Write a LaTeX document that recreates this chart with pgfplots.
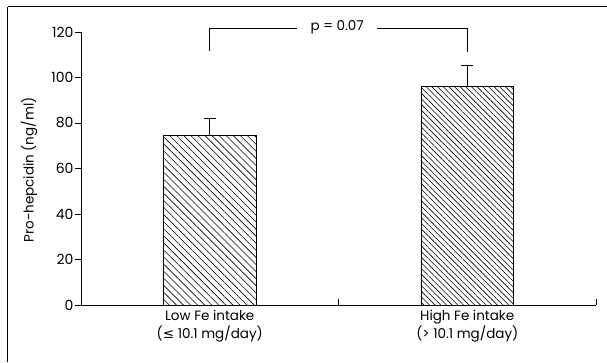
\documentclass[border=0pt]{standalone}
\usepackage{fontspec}
\setmainfont{Poppins}
\newfontfamily\symfont{DejaVu Sans}
\usepackage{pgfplots}
\pgfplotsset{compat=1.18}
\usetikzlibrary{patterns.meta}
\begin{document}
\begin{tikzpicture}[x=1bp,y=1bp]
\useasboundingbox (-81,-57) rectangle (526,305);
\begin{axis}[
  at={(0,0)}, anchor=origin,
  scale only axis, width=515bp, height=273bp,
  xmin=0, xmax=2, ymin=0, ymax=120,
  axis lines=left,
  axis line style={-, line width=0.8bp},
  clip=false,
  tick align=inside,
  major tick length=6bp,
  every tick/.style={black, line width=0.8bp},
  xtick={1,2}, xticklabels={},
  ytick={0,20,40,60,80,100,120},
  ytick style={xshift=-6bp},
  yticklabel style={font=\fontsize{14bp}{16bp}\selectfont, xshift=-4bp},
  /pgf/number format/assume math mode=true,
  extra x ticks={0.5,1.5},
  extra x tick labels={{Low Fe intake\\({\symfont ≤} 10.1 mg/day)},{High Fe intake\\(> 10.1 mg/day)}},
  extra x tick style={major tick length=0pt, tick label style={align=center, font=\fontsize{13.5bp}{18bp}\selectfont, yshift=-2bp}},
]
\addplot[ybar, bar width=0.36, draw=black, line width=0.8bp,
  pattern={Lines[angle=-45,distance=5bp,line width=0.6bp]},
  error bars/.cd, y dir=plus, y explicit, error mark=|,
  error bar style={line width=0.8bp, black, solid},
  error mark options={mark size=6bp, line width=0.8bp, draw=black, solid}]
  coordinates {(0.5,74.5) +- (0,7.4)};
\addplot[ybar, bar width=0.36, draw=black, line width=0.8bp,
  pattern={Lines[angle=-45,distance=4bp,line width=0.6bp]},
  error bars/.cd, y dir=plus, y explicit, error mark=|,
  error bar style={line width=0.8bp, black, solid},
  error mark options={mark size=6bp, line width=0.8bp, draw=black, solid}]
  coordinates {(1.5,96) +- (0,9.3)};
\draw[line width=0.7bp] (axis cs:0.5,111.5) -- (axis cs:0.5,121.5) -- (axis cs:0.84,121.5);
\draw[line width=0.7bp] (axis cs:1.15,121.5) -- (axis cs:1.5,121.5) -- (axis cs:1.5,111);
\node[font=\fontsize{13.5bp}{16bp}\selectfont] at (axis cs:0.995,122) {p = 0.07};
\end{axis}
\node[rotate=90, font=\fontsize{13.5bp}{16bp}\selectfont] at (-52,135) {Pro-hepcidin (ng/ml)};
\draw[line width=1bp] (-73,298) -- (526,298);
\draw[line width=1bp] (-73,298) -- (-73,-57);
\end{tikzpicture}
\end{document}
